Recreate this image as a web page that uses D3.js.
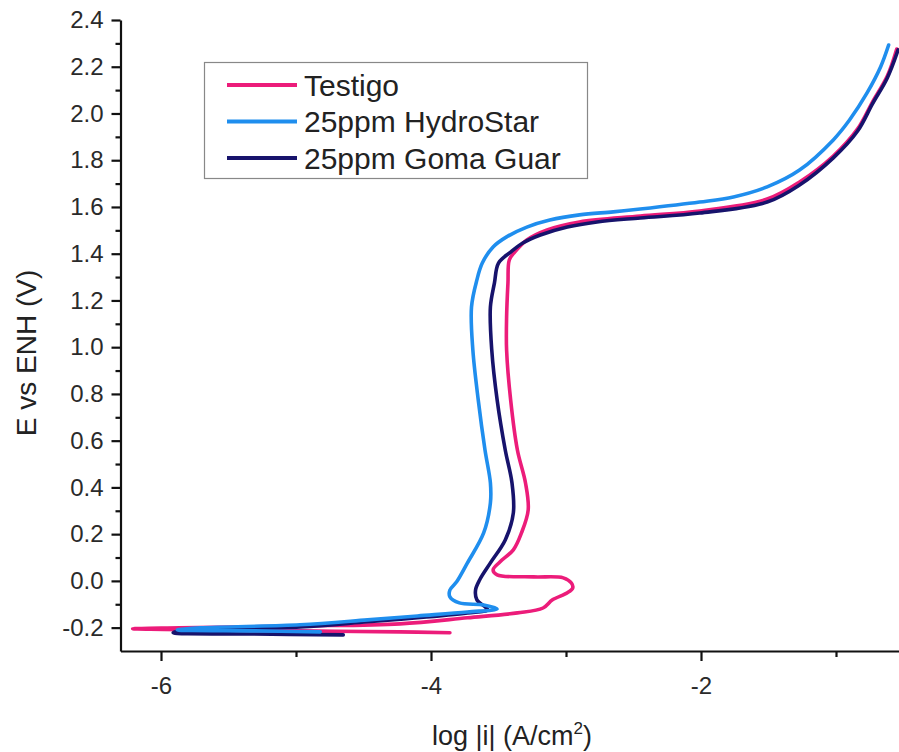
<!DOCTYPE html>
<html><head><meta charset="utf-8">
<script src="https://cdn.jsdelivr.net/npm/d3@7"></script>
<style>
body{margin:0;background:#fff;}
svg{display:block;font-family:"Liberation Sans",Arial,sans-serif;}
</style></head>
<body><svg id="c" width="899" height="752"></svg>
<script>
const seriesNames = ["Testigo", "25ppm HydroStar", "25ppm Goma Guar"];
const seriesColors = ["#EC1C7A", "#1F8EEE", "#17136C"];

// log|i| (A/cm2) and E vs ENH (V) for each curve, in scan order
const testigoLogI = [-3.86,-4.23,-4.97,-5.71,-6.21,-5.86,-4.97,-4.23,-3.73,-3.36,-3.17,-3.10,-2.99,-2.95,-2.96,-3.02,-3.24,-3.51,-3.54,-3.49,-3.39,-3.33,-3.28,-3.30,-3.36,-3.41,-3.44,-3.44,-3.43,-3.42,-3.38,-3.29,-3.14,-2.90,-2.45,-2.01,-1.51,-1.27,-1.02,-0.84,-0.73,-0.62,-0.55];
const testigoE    = [-0.222,-0.218,-0.214,-0.210,-0.205,-0.201,-0.193,-0.184,-0.158,-0.137,-0.116,-0.081,-0.051,-0.030,-0.009,0.013,0.017,0.026,0.047,0.081,0.133,0.205,0.304,0.419,0.560,0.774,0.988,1.129,1.275,1.373,1.407,1.459,1.502,1.536,1.561,1.583,1.634,1.707,1.818,1.934,2.049,2.160,2.276];

const hydroLogI = [-4.82,-5.30,-5.88,-5.71,-4.97,-4.47,-4.10,-3.73,-3.51,-3.61,-3.79,-3.86,-3.86,-3.81,-3.73,-3.61,-3.56,-3.56,-3.60,-3.65,-3.69,-3.70,-3.66,-3.62,-3.54,-3.44,-3.29,-3.12,-2.90,-2.65,-2.45,-2.01,-1.76,-1.51,-1.27,-1.02,-0.90,-0.77,-0.67,-0.61];
const hydroE    = [-0.218,-0.214,-0.210,-0.201,-0.188,-0.167,-0.150,-0.133,-0.120,-0.103,-0.094,-0.068,-0.039,-0.004,0.077,0.205,0.334,0.419,0.560,0.774,0.988,1.172,1.288,1.360,1.429,1.472,1.514,1.544,1.566,1.579,1.591,1.621,1.643,1.686,1.758,1.887,1.972,2.088,2.199,2.293];

const guarLogI = [-4.65,-5.34,-5.91,-5.86,-4.97,-4.47,-4.10,-3.73,-3.58,-3.60,-3.66,-3.67,-3.64,-3.56,-3.45,-3.39,-3.40,-3.45,-3.51,-3.55,-3.56,-3.53,-3.50,-3.41,-3.32,-3.19,-2.99,-2.77,-2.45,-2.01,-1.51,-1.27,-1.02,-0.84,-0.73,-0.62,-0.54];
const guarE    = [-0.231,-0.227,-0.222,-0.214,-0.197,-0.175,-0.158,-0.137,-0.124,-0.111,-0.081,-0.039,0.004,0.077,0.175,0.291,0.419,0.560,0.774,0.988,1.172,1.275,1.360,1.407,1.446,1.480,1.514,1.536,1.553,1.574,1.621,1.694,1.810,1.925,2.041,2.152,2.272];

const xMajorTicks = [-6, -4, -2];
const xMinorTicks = [-5, -3, -1];
const yMajorTicks = [-0.2,0.0,0.2,0.4,0.6,0.8,1.0,1.2,1.4,1.6,1.8,2.0,2.2,2.4];
const yMinorTicks = [-0.1,0.1,0.3,0.5,0.7,0.9,1.1,1.3,1.5,1.7,1.9,2.1,2.3];

const xLabel = "log |i| (A/cm";
const yLabel = "E vs ENH (V)";

const svg = d3.select("#c");
const x = d3.scaleLinear().domain([-6.3, -0.5]).range([120.5, 903.5]);
const y = d3.scaleLinear().domain([-0.3, 2.4]).range([651, 20]);

const series = [
  {name: seriesNames[0], color: seriesColors[0], pts: d3.zip(testigoLogI, testigoE)},
  {name: seriesNames[1], color: seriesColors[1], pts: d3.zip(hydroLogI, hydroE)},
  {name: seriesNames[2], color: seriesColors[2], pts: d3.zip(guarLogI, guarE)}
];

const line = d3.line().x(d => x(d[0])).y(d => y(d[1])).curve(d3.curveCatmullRom.alpha(0.5));
const drawOrder = [0, 2, 1];
svg.append("g").selectAll("path").data(drawOrder.map(i => series[i])).join("path")
  .attr("d", d => line(d.pts))
  .attr("fill", "none").attr("stroke", d => d.color)
  .attr("stroke-width", 3.6).attr("stroke-linejoin", "round").attr("stroke-linecap", "round");

// axes
const fmtY = d => d3.format(".1f")(d).replace("−", "-");
svg.append("g").attr("transform", "translate(120.5,0)")
  .call(d3.axisLeft(y).tickValues(yMajorTicks).tickFormat(fmtY).tickSize(9).tickPadding(8).tickSizeOuter(0));
svg.append("g").attr("transform", "translate(120.5,0)")
  .call(d3.axisLeft(y).tickValues(yMinorTicks).tickFormat("").tickSize(5).tickSizeOuter(0))
  .select(".domain").remove();
svg.append("g").attr("transform", "translate(0,651)")
  .call(d3.axisBottom(x).tickValues(xMajorTicks).tickFormat(d => String(d).replace("−","-")).tickSize(10).tickPadding(16).tickSizeOuter(0));
svg.append("g").attr("transform", "translate(0,651)")
  .call(d3.axisBottom(x).tickValues(xMinorTicks).tickFormat("").tickSize(6).tickSizeOuter(0))
  .select(".domain").remove();

svg.selectAll(".domain").attr("stroke", "#111").attr("stroke-width", 2.2);
svg.selectAll(".tick line").attr("stroke", "#111").attr("stroke-width", 2.2);
svg.selectAll(".tick text").attr("font-size", 24).attr("fill", "#2a2a2a")
  .attr("font-family", "Liberation Sans, Arial, sans-serif");

// axis titles
const xt = svg.append("text").attr("x", 512).attr("y", 745).attr("text-anchor", "middle")
  .attr("font-size", 27).attr("fill", "#222");
xt.append("tspan").text(xLabel);
xt.append("tspan").attr("font-size", 17).attr("dy", -11).text("2");
xt.append("tspan").attr("dy", 11).text(")");

svg.append("text").attr("transform", "translate(36,353) rotate(-90)")
  .attr("text-anchor", "middle").attr("font-size", 28).attr("fill", "#222").text(yLabel);

// legend
const lg = svg.append("g");
lg.append("rect").attr("x", 204.5).attr("y", 62.5).attr("width", 383).attr("height", 116)
  .attr("fill", "#fff").attr("stroke", "#888").attr("stroke-width", 1.2);
series.forEach((s, i) => {
  const ly = 85 + i * 36.5;
  lg.append("line").attr("x1", 227).attr("x2", 297).attr("y1", ly).attr("y2", ly)
    .attr("stroke", s.color).attr("stroke-width", 3.8);
  lg.append("text").attr("x", 304).attr("y", ly + 10.5).attr("font-size", 30).attr("fill", "#222").text(s.name);
});
</script></body></html>
